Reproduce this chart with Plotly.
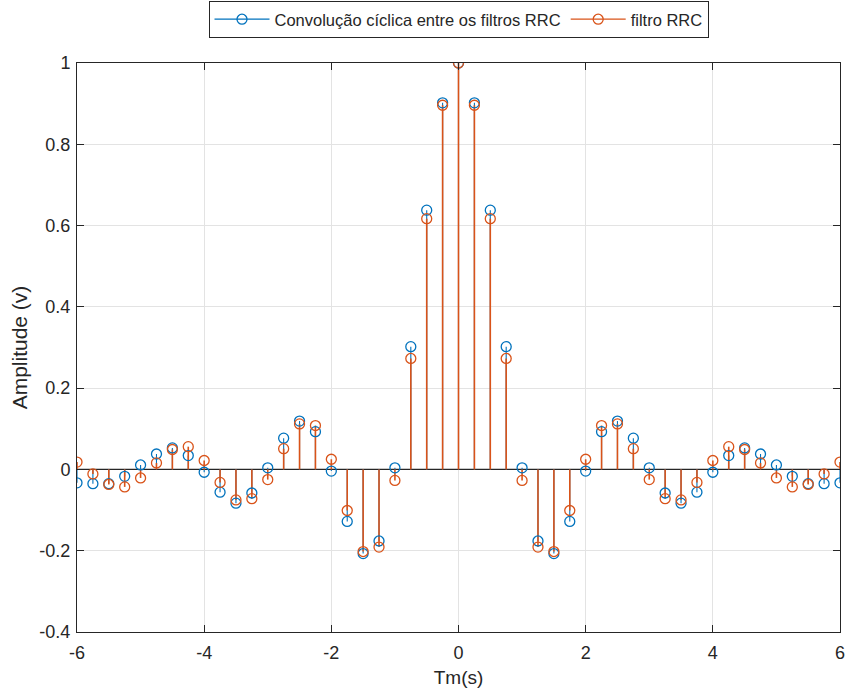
import plotly.graph_objects as go

# Time axis (s), sampled every 0.25 s
t = [-6.0, -5.75, -5.5, -5.25, -5.0, -4.75, -4.5, -4.25, -4.0, -3.75, -3.5, -3.25,
     -3.0, -2.75, -2.5, -2.25, -2.0, -1.75, -1.5, -1.25, -1.0, -0.75, -0.5, -0.25,
     0.0, 0.25, 0.5, 0.75, 1.0, 1.25, 1.5, 1.75, 2.0, 2.25, 2.5, 2.75, 3.0, 3.25,
     3.5, 3.75, 4.0, 4.25, 4.5, 4.75, 5.0, 5.25, 5.5, 5.75, 6.0]

# Cyclic convolution of the two RRC filters
conv_rrc = [-0.033, -0.035, -0.035, -0.017, 0.011, 0.038, 0.053, 0.034, -0.007, -0.056,
            -0.083, -0.058, 0.004, 0.077, 0.119, 0.093, -0.004, -0.128, -0.207, -0.176,
            0.004, 0.302, 0.638, 0.902, 1.0, 0.902, 0.638, 0.302, 0.004, -0.176,
            -0.207, -0.128, -0.004, 0.093, 0.119, 0.077, 0.004, -0.058, -0.083, -0.056,
            -0.007, 0.034, 0.053, 0.038, 0.011, -0.017, -0.035, -0.035, -0.033]

# RRC filter
rrc = [0.018, -0.011, -0.037, -0.043, -0.021, 0.016, 0.049, 0.056, 0.022, -0.032,
       -0.075, -0.072, -0.025, 0.051, 0.112, 0.108, 0.025, -0.101, -0.202, -0.191,
       -0.027, 0.273, 0.617, 0.896, 1.0, 0.896, 0.617, 0.273, -0.027, -0.191,
       -0.202, -0.101, 0.025, 0.108, 0.112, 0.051, -0.025, -0.072, -0.075, -0.032,
       0.022, 0.056, 0.049, 0.016, -0.021, -0.043, -0.037, -0.011, 0.018]

x_ticks = [-6, -4, -2, 0, 2, 4, 6]
x_labels = ["-6", "-4", "-2", "0", "2", "4", "6"]
y_ticks = [-0.4, -0.2, 0, 0.2, 0.4, 0.6, 0.8, 1]
y_labels = ["-0.4", "-0.2", "0", "0.2", "0.4", "0.6", "0.8", "1"]

BLUE = "#0072BD"
ORANGE = "#D95319"
AXIS = "#262626"
FONT = "Liberation Sans, Arial, sans-serif"

series = [
    ("Convolução cíclica entre os filtros RRC", conv_rrc, BLUE, 1.1),
    ("filtro RRC", rrc, ORANGE, 1.6),
]

fig = go.Figure()

# Zero baseline of the stem plot
fig.add_trace(go.Scatter(x=[t[0], t[-1]], y=[0, 0], mode="lines",
                         line=dict(color=AXIS, width=1.3),
                         showlegend=False, hoverinfo="skip"))

for name, vals, color, stem_w in series:
    sx, sy = [], []
    for xv, yv in zip(t, vals):
        sx += [xv, xv, None]
        sy += [0, yv, None]
    # stems
    fig.add_trace(go.Scatter(x=sx, y=sy, mode="lines",
                             line=dict(color=color, width=stem_w),
                             showlegend=False, hoverinfo="skip"))

for name, vals, color, stem_w in series:
    # stem heads
    fig.add_trace(go.Scatter(x=t, y=vals, mode="markers",
                             marker=dict(symbol="circle-open", size=10,
                                         color=color, line=dict(width=1.3, color=color)),
                             showlegend=False, name=name))
    # legend entry
    fig.add_trace(go.Scatter(x=[None], y=[None], mode="lines+markers", name=name,
                             line=dict(color=color, width=1.3),
                             marker=dict(symbol="circle-open", size=10, color=color,
                                         line=dict(width=1.3, color=color))))

axis_common = dict(
    showline=True, linecolor=AXIS, linewidth=1, mirror="ticks",
    ticks="inside", ticklen=7, tickcolor=AXIS, tickwidth=1,
    showgrid=True, gridcolor="#e3e3e3", gridwidth=1,
    zeroline=False, tickfont=dict(family=FONT, size=18, color=AXIS),
    ticklabeloverflow="allow", automargin=False,
)

fig.update_xaxes(range=[-6, 6], tickvals=x_ticks, ticktext=x_labels,
                 ticklabelstandoff=4,
                 title=dict(text="Tm(s)", font=dict(family=FONT, size=19, color=AXIS),
                            standoff=9),
                 **axis_common)
fig.update_yaxes(range=[-0.4, 1], tickvals=y_ticks, ticktext=y_labels,
                 ticklabelstandoff=2,
                 title=dict(text="Amplitude (v)", font=dict(family=FONT, size=21, color=AXIS),
                            standoff=6),
                 **axis_common)

fig.update_layout(
    width=846, height=698,
    margin=dict(l=77, r=6, t=63, b=66, autoexpand=False),
    plot_bgcolor="white", paper_bgcolor="white",
    font=dict(family=FONT, color=AXIS),
    legend=dict(orientation="h", x=0.5, xanchor="center", y=1.109, yanchor="top",
                bordercolor=AXIS, borderwidth=1, bgcolor="white",
                font=dict(family=FONT, size=16.5, color=AXIS),
                itemwidth=55),
)

fig.write_html("out.html")
